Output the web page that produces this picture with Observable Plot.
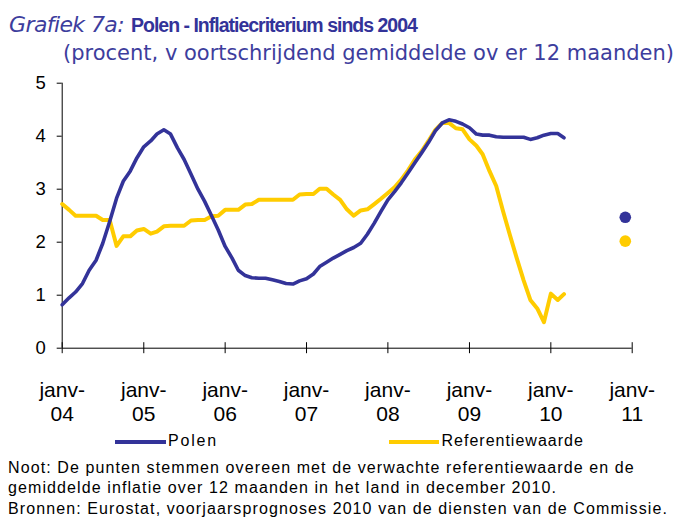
<!DOCTYPE html>
<html><head><meta charset="utf-8">
<script src="https://cdn.jsdelivr.net/npm/d3@7"></script>
<script src="https://cdn.jsdelivr.net/npm/@observablehq/plot@0.6"></script>
<style>
body{margin:0;background:#fff;width:683px;height:522px;position:relative;overflow:hidden;font-family:"Liberation Sans",Arial,sans-serif}
#chart{position:absolute;left:0;top:0}
.t{position:absolute;white-space:nowrap;line-height:1}
.sw{position:absolute;height:4px}
</style></head><body>
<div id="chart"></div>
<div class="t" style="left:9px;top:13.7px;font-size:22px;font-family:'DejaVu Sans',sans-serif;"><span style="font-style:italic;color:#3d3d9d;letter-spacing:-0.6px">Grafiek 7a:</span> <span style="font-weight:bold;color:#333399;font-family:'Liberation Sans',sans-serif;font-size:19.5px;letter-spacing:-1px">Polen - Inflatiecriterium sinds 2004</span></div>
<div class="t" style="left:63px;top:43.2px;font-size:21px;font-family:'DejaVu Sans',sans-serif;color:#3d3d9d;letter-spacing:0px">(procent, v oortschrijdend gemiddelde ov er 12 maanden)</div>
<div class="sw" style="left:115px;top:440px;width:51px;background:#333399"></div>
<div class="t" style="left:168px;top:433.2px;font-size:16px;letter-spacing:1.8px">Polen</div>
<div class="sw" style="left:389px;top:439.5px;width:50px;background:#ffcc00"></div>
<div class="t" style="left:441.5px;top:433.2px;font-size:16px;letter-spacing:1px">Referentiewaarde</div>
<div class="t" style="left:8px;top:457.5px;font-size:16px;line-height:20.5px;letter-spacing:1.1px">Noot: De punten stemmen overeen met de verwachte referentiewaarde en de<br>gemiddelde inflatie over 12 maanden in het land in december 2010.<br>Bronnen: Eurostat, voorjaarsprognoses 2010 van de diensten van de Commissie.</div>
<script>
// monthly values, January 2004 - March 2010
const startYear = 2004;
const polen = [0.82,0.95,1.06,1.22,1.47,1.66,1.98,2.39,2.83,3.15,3.34,3.59,
  3.80,3.91,4.04,4.12,4.04,3.78,3.56,3.28,3.00,2.77,2.50,2.23,
  1.92,1.70,1.47,1.37,1.33,1.32,1.32,1.29,1.26,1.22,1.21,1.27,
  1.31,1.40,1.54,1.62,1.70,1.77,1.84,1.90,1.98,2.15,2.36,2.58,
  2.80,2.96,3.12,3.31,3.50,3.69,3.88,4.10,4.25,4.31,4.28,4.23,
  4.16,4.04,4.02,4.02,3.99,3.98,3.98,3.98,3.98,3.94,3.97,4.02,
  4.05,4.05,3.97];
const referentie = [2.72,2.61,2.50,2.50,2.50,2.50,2.42,2.42,1.93,2.11,2.11,2.22,
  2.25,2.16,2.20,2.30,2.31,2.31,2.31,2.41,2.42,2.42,2.49,2.50,
  2.61,2.61,2.61,2.71,2.72,2.80,2.80,2.80,2.80,2.80,2.80,2.90,
  2.91,2.91,3.01,3.01,2.90,2.80,2.62,2.50,2.60,2.62,2.72,2.82,
  2.93,3.04,3.18,3.36,3.56,3.72,3.91,4.12,4.25,4.25,4.15,4.13,
  3.94,3.82,3.66,3.34,3.06,2.58,2.14,1.70,1.28,0.91,0.75,0.49,
  1.03,0.91,1.02];
// expected values for December 2010
const forecastMonth = "2010-12";
const forecastPolen = 2.47;
const forecastReferentie = 2.02;
const yearTicks = [2004,2005,2006,2007,2008,2009,2010,2011];
const yTicks = [0,1,2,3,4,5];

const toDate = i => new Date(Date.UTC(startYear, i, 1));
const polenData = polen.map((v,i)=>({date: toDate(i), value: v}));
const refData = referentie.map((v,i)=>({date: toDate(i), value: v}));
const [fy, fm] = forecastMonth.split("-").map(Number);
const fDate = new Date(Date.UTC(fy, fm-1, 1));
const dots = [{date: fDate, value: forecastPolen, c:"#333399"},{date: fDate, value: forecastReferentie, c:"#ffcc00"}];
const years = yearTicks.map(y => new Date(Date.UTC(y,0,1)));

const chart = Plot.plot({
  width: 683, height: 430,
  marginLeft: 61.7, marginRight: 51.3, marginTop: 82.7, marginBottom: 82.3,
  style: {fontFamily: "'Liberation Sans', Arial, sans-serif", color: "#000", background: "transparent"},
  x: {type: "utc", domain: [years[0], years[years.length-1]]},
  y: {domain: [0, 5]},
  marks: [
    Plot.ruleX([years[0]], {y1: 0, y2: 5, stroke: "#000", strokeWidth: 1}),
    Plot.ruleY([0], {stroke: "#000", strokeWidth: 1}),
    Plot.ruleX(years, {x: d => d, y1: 0, y2: 0, insetTop: -5.5, insetBottom: -5.5, stroke: "#000"}),
    Plot.axisY({ticks: yTicks, tickSize: 5, tickPadding: 11.5, fontSize: 18.5, stroke: "#000", label: null, tickFormat: d => String(d)}),
    Plot.axisX({ticks: years, tickSize: 0, tickPadding: 32, fontSize: 21, lineHeight: 1.14,
      tickFormat: d => "janv-\n" + String(d.getUTCFullYear()).slice(2), label: null}),
    Plot.lineY(refData, {x: "date", y: "value", stroke: "#ffcc00", strokeWidth: 4, strokeLinejoin: "round"}),
    Plot.lineY(polenData, {x: "date", y: "value", stroke: "#333399", strokeWidth: 3.6, strokeLinejoin: "round"}),
    Plot.dot(dots, {x: "date", y: "value", fill: "c", r: 5.8})
  ]
});
document.getElementById("chart").appendChild(chart);
</script>
</body></html>
